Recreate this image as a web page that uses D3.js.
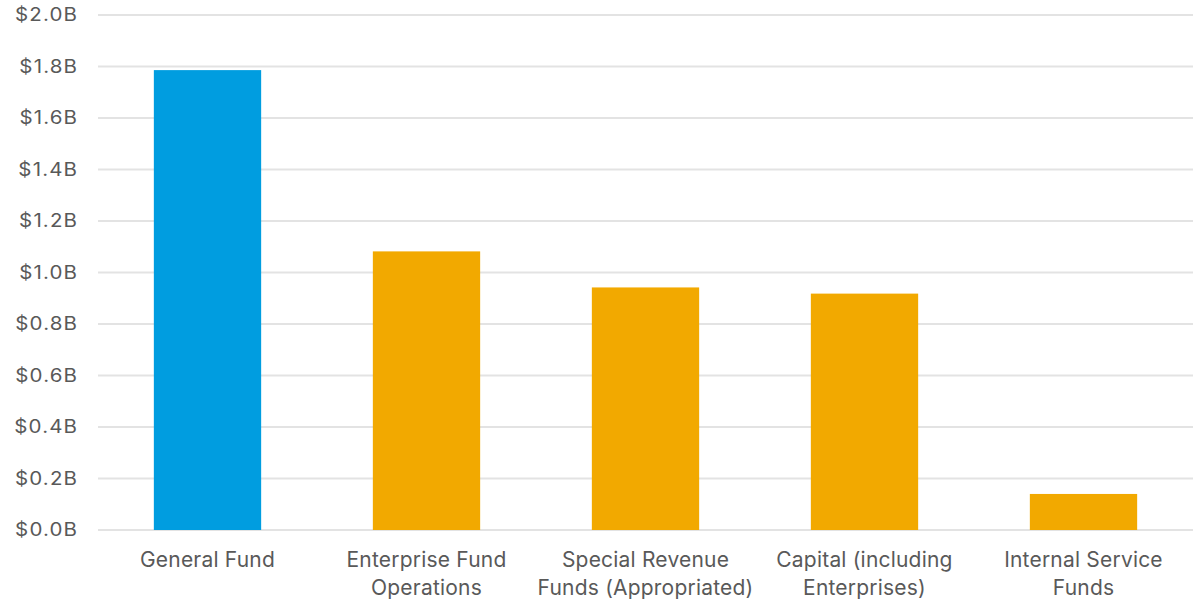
<!DOCTYPE html>
<html>
<head>
<meta charset="utf-8">
<script src="https://cdn.jsdelivr.net/npm/d3@7"></script>
<style>
  html, body { margin: 0; padding: 0; background: #ffffff; }
  svg { display: block; }
  text { font-family: "Inter", sans-serif; fill: #595959; }
</style>
</head>
<body>
<svg id="chart" width="1196" height="600"></svg>
<script>
// Budget by fund type, in billions of dollars
const categories = [
  ["General Fund"],
  ["Enterprise Fund", "Operations"],
  ["Special Revenue", "Funds (Appropriated)"],
  ["Capital (including", "Enterprises)"],
  ["Internal Service", "Funds"]
];
const values = [1.786, 1.082, 0.942, 0.918, 0.140];
const barColors = ["#009de0", "#f2a900", "#f2a900", "#f2a900", "#f2a900"];
const yTicks = [0, 0.2, 0.4, 0.6, 0.8, 1.0, 1.2, 1.4, 1.6, 1.8, 2.0];

const svg = d3.select("#chart");
const margin = { top: 15, right: 3, bottom: 70, left: 98 };
const width = 1196, height = 600;

const keys = categories.map(c => c.join(" "));
const x = d3.scaleBand()
  .domain(keys)
  .range([margin.left, width - margin.right])
  .paddingInner(0.51)
  .paddingOuter(0.255);

const y = d3.scaleLinear()
  .domain([0, 2.0])
  .range([height - margin.bottom, margin.top]);

// horizontal gridlines
svg.append("g")
  .selectAll("line")
  .data(yTicks)
  .join("line")
  .attr("x1", margin.left)
  .attr("x2", width - margin.right)
  .attr("y1", d => y(d))
  .attr("y2", d => y(d))
  .attr("stroke", "#e3e3e3")
  .attr("stroke-width", 2);

// y axis labels, set in a widened face
const tickSpacing = 1;
const tickStretch = 1.14;
const yAxis = d3.axisLeft(y)
  .tickValues(yTicks)
  .tickSize(0)
  .tickPadding(0)
  .tickFormat(d => "$" + d3.format(".1f")(d) + "B");

svg.append("g")
  .attr("transform", `translate(${77 + tickSpacing * tickStretch},0)`)
  .call(yAxis)
  .call(g => g.select(".domain").remove())
  .call(g => g.selectAll("text")
    .attr("font-size", 18)
    .attr("font-family", null)
    .attr("letter-spacing", tickSpacing)
    .attr("transform", `scale(${tickStretch},1)`)
    .attr("fill", "#595959"));

// bars
svg.append("g")
  .selectAll("rect")
  .data(values)
  .join("rect")
  .attr("x", (d, i) => x(keys[i]))
  .attr("width", x.bandwidth())
  .attr("y", d => y(d))
  .attr("height", d => y(0) - y(d))
  .attr("fill", (d, i) => barColors[i]);

// category labels
const labels = svg.append("g")
  .selectAll("text")
  .data(categories)
  .join("text")
  .attr("text-anchor", "middle")
  .attr("font-size", 21)
  .attr("letter-spacing", 0.2)
  .attr("x", (d, i) => x(keys[i]) + x.bandwidth() / 2)
  .attr("y", 567);

labels.selectAll("tspan")
  .data(d => d)
  .join("tspan")
  .attr("x", function () { return d3.select(this.parentNode).attr("x"); })
  .attr("dy", (d, i) => i === 0 ? 0 : 28)
  .text(d => d);
</script>
</body>
</html>
